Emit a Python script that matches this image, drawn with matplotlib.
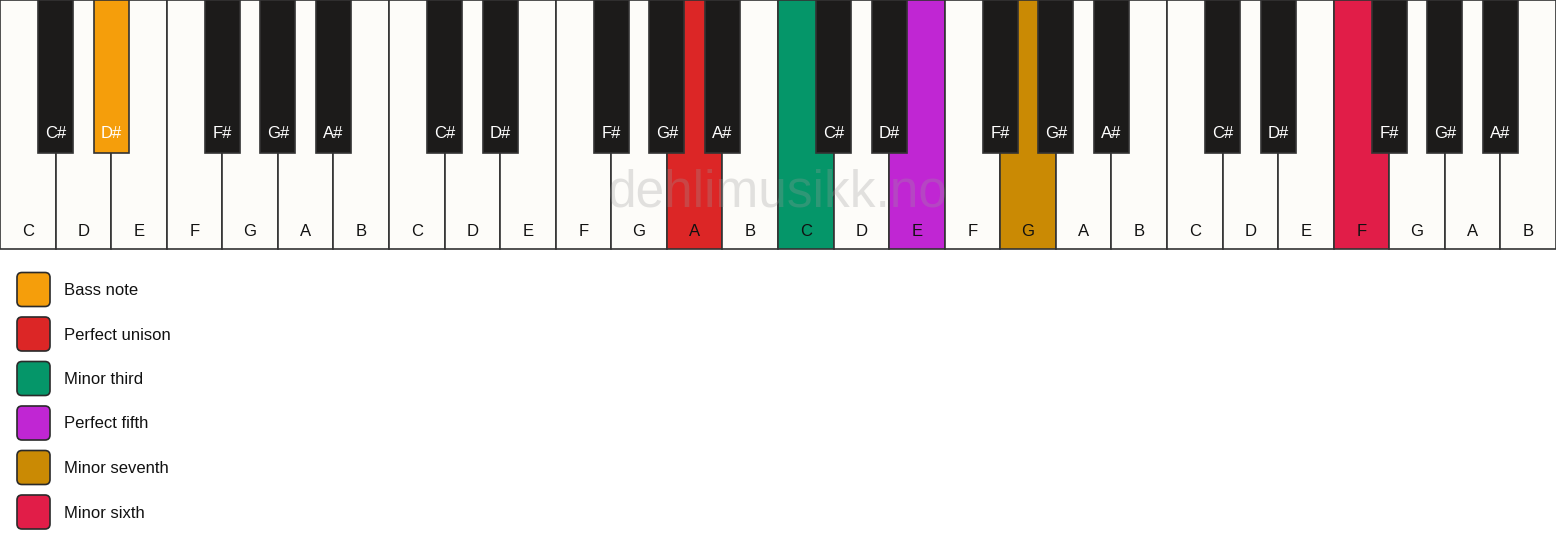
import matplotlib.pyplot as plt
from matplotlib.patches import Rectangle, FancyBboxPatch

plt.rcParams['font.family'] = ['Liberation Sans', 'DejaVu Sans']

# keyboard data
white_names = ['C', 'D', 'E', 'F', 'G', 'A', 'B']
black_names = ['C#', 'D#', 'F#', 'G#', 'A#']
black_after = [0, 1, 3, 4, 5]   # black key sits after this white key index
n_octaves = 4

# highlighted keys: (note, octave) and legend
legend_labels = ['Bass note', 'Perfect unison', 'Minor third', 'Perfect fifth',
                 'Minor seventh', 'Minor sixth']
legend_colors = ['#F59E0B', '#DC2626', '#059669', '#C026D3', '#CA8A04', '#E11D48']
highlight_notes = [('D#', 0), ('A', 1), ('C', 2), ('E', 2), ('G', 2), ('F', 3)]

W, H = 1556, 550
fig = plt.figure(figsize=(W / 100, H / 100), dpi=100)
ax = fig.add_axes([0, 0, 1, 1])
ax.set_xlim(0, W)
ax.set_ylim(H, 0)
ax.axis('off')

color_of = {k: c for k, c in zip(highlight_notes, legend_colors)}

kw = W / (7 * n_octaves)
key_h = 249
bk_w = 35
bk_h = 153
edge = '#333333'

# white keys
for o in range(n_octaves):
    for i, nm in enumerate(white_names):
        x = (o * 7 + i) * kw
        fc = color_of.get((nm, o), '#FDFCF9')
        ax.add_patch(Rectangle((x, 0), kw, key_h, facecolor=fc, edgecolor=edge,
                               linewidth=1.2, zorder=1))
        ax.text(x + kw / 2, 231, nm, ha='center', va='center', fontsize=12,
                color='#111111', zorder=5)

# watermark
ax.text(W / 2, 193, 'dehlimusikk.no', ha='center', va='center', fontsize=37,
        color='#9a9a9a', alpha=0.28, zorder=3)

# black keys
for o in range(n_octaves):
    for nm, a in zip(black_names, black_after):
        xc = (o * 7 + a + 1) * kw
        fc = color_of.get((nm, o), '#1C1B1A')
        ax.add_patch(Rectangle((xc - bk_w / 2, 0), bk_w, bk_h, facecolor=fc,
                               edgecolor=edge, linewidth=1.2, zorder=4))
        ax.text(xc, 134, nm, ha='center', va='center', fontsize=12,
                color='white', zorder=5)

# legend
for j, (lab, col) in enumerate(zip(legend_labels, legend_colors)):
    yc = 289.5 + j * 44.5
    ax.add_patch(FancyBboxPatch((17 + 5, yc - 17 + 5), 33 - 10, 34 - 10,
                                boxstyle='round,pad=5', facecolor=col,
                                edgecolor='#2a2a2a', linewidth=1.2))
    ax.text(64, yc + 1, lab, ha='left', va='center', fontsize=12, color='#111111')

fig.savefig('out.png', dpi=100)
